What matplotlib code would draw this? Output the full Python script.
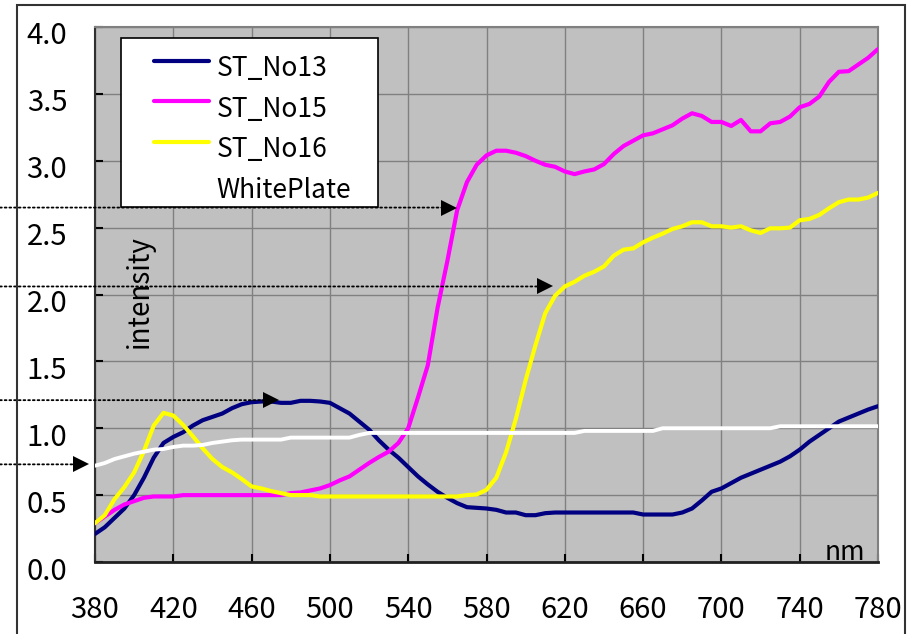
import numpy as np
import matplotlib
matplotlib.use('Agg')
import matplotlib.pyplot as plt
import matplotlib.transforms as mtransforms
from matplotlib.legend_handler import HandlerLine2D
from matplotlib.patches import Rectangle

plt.rcParams['font.family'] = ['Noto Sans CJK JP', 'DejaVu Sans']

# ---------------- data ----------------
wavelength = list(range(380, 781, 5))

st_no13 = [0.21, 0.26, 0.33, 0.40, 0.50, 0.63, 0.78, 0.89, 0.935, 0.97,
           1.02, 1.06, 1.085, 1.11, 1.15, 1.18, 1.195, 1.20, 1.20, 1.19,
           1.19, 1.205, 1.205, 1.20, 1.19, 1.15, 1.11, 1.05, 0.99, 0.91,
           0.84, 0.78, 0.71, 0.64, 0.58, 0.525, 0.48, 0.44, 0.41, 0.405,
           0.40, 0.39, 0.37, 0.37, 0.35, 0.35, 0.365, 0.37, 0.37, 0.37,
           0.37, 0.37, 0.37, 0.37, 0.37, 0.37, 0.355, 0.355, 0.355, 0.355,
           0.37, 0.40, 0.46, 0.525, 0.55, 0.59, 0.63, 0.66, 0.69, 0.72,
           0.75, 0.79, 0.84, 0.90, 0.95, 1.00, 1.05, 1.08, 1.11, 1.14,
           1.165]

st_no15 = [0.29, 0.34, 0.39, 0.43, 0.455, 0.48, 0.49, 0.49, 0.49, 0.50,
           0.50, 0.50, 0.50, 0.50, 0.50, 0.50, 0.50, 0.50, 0.50, 0.50,
           0.515, 0.52, 0.535, 0.55, 0.575, 0.61, 0.64, 0.69, 0.74, 0.785,
           0.825, 0.89, 1.00, 1.23, 1.47, 1.90, 2.25, 2.63, 2.84, 2.97,
           3.04, 3.075, 3.075, 3.06, 3.035, 3.00, 2.97, 2.955, 2.92, 2.90,
           2.92, 2.935, 2.975, 3.05, 3.11, 3.15, 3.19, 3.205, 3.235, 3.265,
           3.315, 3.355, 3.335, 3.29, 3.29, 3.26, 3.305, 3.22, 3.22, 3.28,
           3.29, 3.33, 3.40, 3.425, 3.48, 3.59, 3.665, 3.67, 3.72, 3.77,
           3.835]

st_no16 = [0.29, 0.35, 0.47, 0.56, 0.67, 0.83, 1.02, 1.115, 1.095, 1.025,
           0.94, 0.85, 0.77, 0.71, 0.67, 0.62, 0.565, 0.55, 0.53, 0.515,
           0.50, 0.50, 0.50, 0.49, 0.49, 0.49, 0.49, 0.49, 0.49, 0.49,
           0.49, 0.49, 0.49, 0.49, 0.49, 0.49, 0.49, 0.49, 0.50, 0.505,
           0.54, 0.63, 0.82, 1.07, 1.36, 1.62, 1.86, 1.99, 2.06, 2.095,
           2.14, 2.17, 2.21, 2.29, 2.335, 2.345, 2.39, 2.425, 2.455, 2.49,
           2.51, 2.54, 2.54, 2.51, 2.51, 2.50, 2.51, 2.48, 2.46, 2.495,
           2.495, 2.50, 2.555, 2.565, 2.595, 2.645, 2.69, 2.71, 2.71, 2.725,
           2.76]

white_plate = [0.72, 0.74, 0.77, 0.79, 0.81, 0.825, 0.84, 0.845, 0.86, 0.87,
               0.87, 0.875, 0.89, 0.90, 0.91, 0.915, 0.915, 0.915, 0.915, 0.915,
               0.93, 0.93, 0.93, 0.93, 0.93, 0.93, 0.93, 0.95, 0.965, 0.965,
               0.965, 0.965, 0.965, 0.965, 0.965, 0.965, 0.965, 0.965, 0.965, 0.965,
               0.965, 0.965, 0.965, 0.965, 0.965, 0.965, 0.965, 0.965, 0.965, 0.965,
               0.98, 0.98, 0.98, 0.98, 0.98, 0.98, 0.98, 0.98, 1.00, 1.00,
               1.00, 1.00, 1.00, 1.00, 1.00, 1.00, 1.00, 1.00, 1.00, 1.00,
               1.015, 1.015, 1.015, 1.015, 1.015, 1.015, 1.015, 1.015, 1.015, 1.015,
               1.015]

series_names = ['ST_No13', 'ST_No15', 'ST_No16', 'WhitePlate']
series_colors = ['#000080', '#FF00FF', '#FFFF00', '#FFFFFF']

x_ticks = [380, 420, 460, 500, 540, 580, 620, 660, 700, 740, 780]
y_ticks = [0.0, 0.5, 1.0, 1.5, 2.0, 2.5, 3.0, 3.5, 4.0]

# dotted pointer arrows: level (intensity) and tip wavelength
arrow_levels = [2.65, 2.06, 1.21, 0.73]
arrow_tips = [565, 614, 474, 377]

# ---------------- figure ----------------
FS = 19
TICK_FS = 21
fig = plt.figure(figsize=(9.2, 6.34), dpi=100)
ax = fig.add_axes([95 / 920, 72 / 634, 783 / 920, 535 / 634])
ax.set_facecolor('#C0C0C0')

for vals, name, col in zip([st_no13, st_no15, st_no16, white_plate],
                           series_names, series_colors):
    lw = 2.8 if name == 'WhitePlate' else 3.0
    ax.plot(wavelength, vals, color=col, lw=lw, label=name,
            solid_joinstyle='round', solid_capstyle='round', zorder=3)

ax.set_xlim(380, 780)
ax.set_ylim(0, 4)
ax.set_xticks(x_ticks)
ax.set_yticks(y_ticks)
ax.set_yticklabels([f'{v:.1f}' for v in y_ticks])
ax.grid(True, color='#808080', lw=1.0, zorder=0)
ax.set_axisbelow(True)

ax.tick_params(axis='both', direction='in', length=6, width=1.5,
               color='black', labelsize=TICK_FS)
ax.tick_params(axis='y', pad=20)
ax.tick_params(axis='x', pad=24)

# shift y tick labels slightly down (as in reference)
offset = mtransforms.ScaledTranslation(0, -6 / 100, fig.dpi_scale_trans)
for lbl in ax.get_yticklabels():
    lbl.set_transform(lbl.get_transform() + offset)

for side in ['top', 'right']:
    ax.spines[side].set_color('#808080')
    ax.spines[side].set_linewidth(1.5)
ax.spines['bottom'].set_color('#202020')
ax.spines['bottom'].set_linewidth(2.0)
ax.spines['left'].set_color('#303030')
ax.spines['left'].set_linewidth(1.5)

# pointer arrows (dotted line from figure left edge + solid triangular head)
HEAD_PX = 15.5
head_shift = mtransforms.ScaledTranslation(-HEAD_PX / 2 / 100, 0, fig.dpi_scale_trans)
for lev, tip in zip(arrow_levels, arrow_tips):
    ax.annotate('', xy=(tip, lev), xycoords='data',
                xytext=(0.0, lev), textcoords=('figure fraction', 'data'),
                arrowprops=dict(arrowstyle='-', linestyle=(0, (1, 1.6)),
                                lw=1.3, color='black', shrinkA=0,
                                shrinkB=HEAD_PX * 72 / 100 - 1),
                annotation_clip=False, zorder=5)
    ax.plot([tip], [lev], marker='>', ms=HEAD_PX * 72 / 100, color='black',
            mec='black', mew=0, transform=ax.transData + head_shift,
            clip_on=False, zorder=5)

# texts inside plot
ax.text(0.0575, 0.505, 'intensity', rotation=90, fontsize=20,
        transform=ax.transAxes, ha='center', va='center', zorder=4)
ax.text(0.983, 0.004, 'nm', fontsize=FS, transform=ax.transAxes,
        ha='right', va='baseline', zorder=4)


# legend: handles/labels from the plotted lines, line slightly raised
class RaisedLine(HandlerLine2D):
    def create_artists(self, legend, orig_handle, xdescent, ydescent,
                       width, height, fontsize, trans):
        arts = super().create_artists(legend, orig_handle, xdescent, ydescent,
                                      width, height, fontsize, trans)
        for a in arts:
            a.set_ydata(np.asarray(a.get_ydata()) + 0.23 * fontsize)
        return arts


leg_box = Rectangle(((121 - 95) / 783, (562 - 207) / 535),
                    (378 - 121) / 783, (207 - 38) / 535,
                    transform=ax.transAxes, facecolor='white',
                    edgecolor='black', lw=1.2, zorder=6)
ax.add_patch(leg_box)

leg = ax.legend(loc='upper left', bbox_to_anchor=((154 - 95) / 783, (562 - 55) / 535),
                fontsize=FS, frameon=False, borderpad=0, borderaxespad=0,
                handlelength=2.08, handletextpad=0.3, labelspacing=0.52,
                handler_map={plt.Line2D: RaisedLine()})
leg.set_zorder(7)

# outer chart frame
fig.patches.append(Rectangle((17 / 920, -0.05), (905 - 17) / 920, 1.05 - 5 / 634,
                             transform=fig.transFigure, fill=False,
                             edgecolor='#333333', lw=1.5))

fig.savefig('out.png', dpi=100, facecolor='white')
